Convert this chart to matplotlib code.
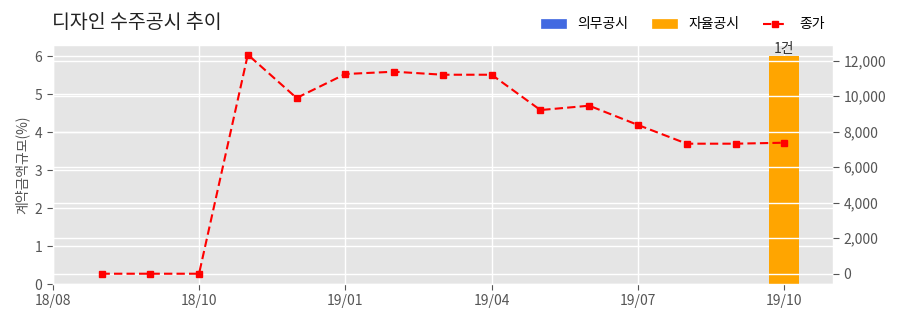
import matplotlib
matplotlib.use("Agg")
import matplotlib.pyplot as plt
from matplotlib.ticker import FuncFormatter
from matplotlib.patches import Patch

plt.style.use("ggplot")
plt.rcParams['font.family'] = ['Noto Sans CJK KR', 'DejaVu Sans']

# data
tick_labels = ["18/08", "18/10", "19/01", "19/04", "19/07", "19/10"]
tick_pos = [0, 3, 6, 9, 12, 15]
price_x = list(range(1, 16))
price = [0, 0, 0, 12340, 9900, 11250, 11380, 11210, 11210, 9220, 9465, 8380, 7325, 7325, 7380]
bar_x = [15]
bar_vals = [6]
bar_labels = ["1건"]

fig = plt.figure(figsize=(9, 3.23), dpi=100)
ax = fig.add_axes([0.0586, 0.1207, 0.8670, 0.7400])
ax.set_facecolor("#E5E5E5")

ax.bar(bar_x, bar_vals, width=0.62, color="orange", zorder=2)
for x, v, t in zip(bar_x, bar_vals, bar_labels):
    ax.text(x, v + 0.02, t, ha="center", va="bottom", fontsize=10, color="#333333")

ax.set_xlim(0, 16)
ax.set_ylim(0, 6.3)
ax.set_xticks(tick_pos)
ax.set_xticklabels(tick_labels)
ax.set_yticks([0, 1, 2, 3, 4, 5, 6])
ax.set_ylabel("계약금액규모(%)", fontsize=10, color="#555555")
ax.grid(True, color="white", linewidth=1)
ax.tick_params(colors="#555555", labelsize=10, length=4)
for lbl in ax.get_xticklabels() + ax.get_yticklabels():
    lbl.set_color("#555555")

ax2 = ax.twinx()
line, = ax2.plot(price_x, price, color="red", linestyle=(0, (4, 2)), marker="s", markersize=5,
                 linewidth=1.5, zorder=3)
ax2.set_ylim(-580, 12885)
ax2.set_yticks([0, 2000, 4000, 6000, 8000, 10000, 12000])
ax2.yaxis.set_major_formatter(FuncFormatter(lambda v, p: f"{int(v):,}"))
ax2.grid(True, color="white", linewidth=1)
ax2.tick_params(colors="#555555", labelsize=10, length=4)
ax2.set_facecolor("none")
for s in ax2.spines.values():
    s.set_visible(False)

fig.text(0.058, 0.93, "디자인 수주공시 추이", fontsize=14, color="#222222", ha="left", va="center")

handles = [Patch(color="royalblue"), Patch(color="orange"), line]
labels = ["의무공시", "자율공시", "종가"]
fig.legend(handles, labels, loc="center right", bbox_to_anchor=(0.93, 0.925), ncol=3,
           frameon=False, fontsize=10, handlelength=1.8, handleheight=0.6,
           columnspacing=1.7, handletextpad=0.8)

fig.savefig("out.png", dpi=100)
